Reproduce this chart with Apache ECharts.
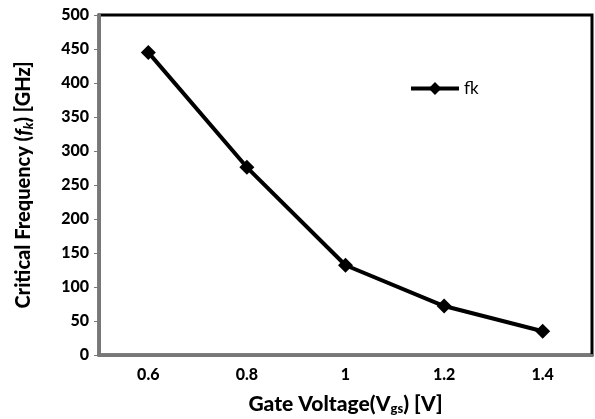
<!DOCTYPE html>
<html>
<head>
<meta charset="utf-8">
<script src="https://cdn.jsdelivr.net/npm/echarts@6/dist/echarts.min.js"></script>
<style>
  html, body { margin: 0; padding: 0; background: #fff; }
  #chart { width: 595px; height: 419px; }
</style>
</head>
<body>
<div id="chart"></div>
<script>
const gateVoltage = ['0.6', '0.8', '1', '1.2', '1.4'];
const fkValues = [445, 276, 132, 72, 35];

const chart = echarts.init(document.getElementById('chart'));
const font = 'Lato, "Open Sans", sans-serif';

chart.setOption({
  animation: false,
  textStyle: { fontFamily: font },
  grid: {
    left: 99, right: 3, top: 15, bottom: 64,
    outerBoundsMode: 'none',
    containLabel: false,
    show: true, borderColor: '#000', borderWidth: 3
  },
  legend: {
    left: 404, top: 75,
    itemWidth: 48, itemHeight: 16, itemGap: 6,
    lineStyle: { width: 4, color: '#000' },
    textStyle: { fontSize: 17, color: '#000', fontFamily: font },
    data: ['fk']
  },
  xAxis: {
    type: 'category',
    data: gateVoltage,
    boundaryGap: true,
    axisLine: { lineStyle: { color: '#777', width: 3 } },
    axisTick: { show: false },
    axisLabel: { color: '#000', fontSize: 16, fontWeight: 900, margin: 12 },
    name: 'Gate Voltage(V{sub|gs}) [V]',
    nameLocation: 'middle',
    nameGap: 38,
    nameTextStyle: {
      color: '#000', fontSize: 21, fontWeight: 900, fontFamily: font,
      rich: { sub: { fontSize: 13, fontWeight: 900, verticalAlign: 'bottom', padding: [9, 0, 0, 0], fontFamily: font } }
    }
  },
  yAxis: {
    type: 'value',
    min: 0, max: 500, interval: 50,
    splitLine: { show: false },
    axisLine: { show: true, lineStyle: { color: '#777', width: 3 } },
    axisTick: { show: true, length: 5, lineStyle: { color: '#777', width: 1 } },
    axisLabel: { color: '#000', fontSize: 16, fontWeight: 900, margin: 10 },
    name: 'Critical Frequency ({f|f}{sub|k}) [GHz]',
    nameLocation: 'middle',
    nameGap: 64,
    nameTextStyle: {
      color: '#000', fontSize: 20, fontWeight: 900, fontFamily: font,
      rich: {
        f: { fontSize: 20, fontWeight: 900, fontStyle: 'italic', fontFamily: font },
        sub: { fontSize: 13, fontWeight: 900, fontStyle: 'italic', verticalAlign: 'bottom', padding: [9, 0, 0, 0], fontFamily: font }
      }
    }
  },
  series: [{
    name: 'fk',
    type: 'line',
    data: fkValues,
    symbol: 'diamond',
    symbolSize: 15,
    itemStyle: { color: '#000' },
    lineStyle: { color: '#000', width: 4 }
  }]
});
</script>
</body>
</html>
